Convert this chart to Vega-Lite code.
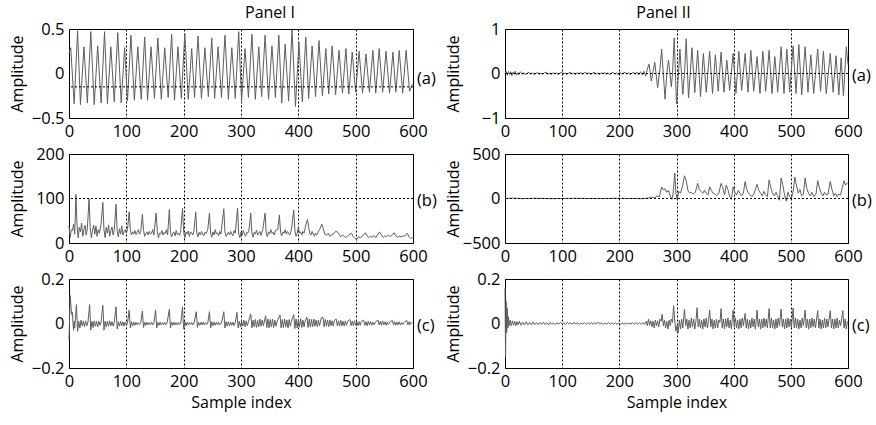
{
"$schema": "https://vega.github.io/schema/vega-lite/v6.json",
"background": "white",
"padding": {"left": 8, "top": 4, "right": 5, "bottom": 5},
"bounds": "flush",
"columns": 2,
"spacing": {"row": 36, "column": 92},
"config": {
  "font": "Open Sans",
  "view": {"stroke": "black", "strokeWidth": 1},
  "axis": {"domain": false, "ticks": false, "labelFontSize": 16.5, "labelColor": "black", "titleFontSize": 16, "titleColor": "black", "titleFontWeight": "normal", "labelPadding": 5, "labelFlush": false, "labelOverlap": false},
  "axisX": {"grid": true, "gridColor": "black", "gridDash": [2, 2], "gridOpacity": 1, "format": "d", "zindex": 1},
  "axisY": {"grid": false, "format": "~r", "titleX": -47, "titleBaseline": "alphabetic"},
  "title": {"fontSize": 16, "fontWeight": "normal", "color": "black"},
  "line": {"color": "#5e5e5e", "strokeWidth": 1}
},
"datasets": {
"Ia": [{"s":0,"v":0.22},{"s":3,"v":0.29},{"s":9,"v":-0.34},{"s":15,"v":0.48},{"s":20,"v":-0.35},{"s":26,"v":0.30},{"s":32,"v":-0.33},{"s":38,"v":0.47},{"s":44,"v":-0.35},{"s":50,"v":0.31},{"s":56,"v":-0.33},{"s":62,"v":0.47},{"s":67,"v":-0.34},{"s":73,"v":0.30},{"s":79,"v":-0.32},{"s":85,"v":0.46},{"s":91,"v":-0.33},{"s":97,"v":0.29},{"s":102,"v":-0.31},{"s":108,"v":0.43},{"s":114,"v":-0.30},{"s":120,"v":0.30},{"s":126,"v":-0.29},{"s":132,"v":0.41},{"s":137,"v":-0.30},{"s":143,"v":0.30},{"s":149,"v":-0.28},{"s":155,"v":0.40},{"s":161,"v":-0.29},{"s":167,"v":0.29},{"s":173,"v":-0.27},{"s":179,"v":0.44},{"s":184,"v":-0.30},{"s":190,"v":0.30},{"s":196,"v":-0.28},{"s":202,"v":0.45},{"s":208,"v":-0.29},{"s":214,"v":0.28},{"s":219,"v":-0.27},{"s":225,"v":0.42},{"s":231,"v":-0.28},{"s":237,"v":0.29},{"s":243,"v":-0.26},{"s":249,"v":0.40},{"s":254,"v":-0.28},{"s":260,"v":0.30},{"s":266,"v":-0.27},{"s":272,"v":0.43},{"s":278,"v":-0.29},{"s":284,"v":0.29},{"s":290,"v":-0.28},{"s":296,"v":0.47},{"s":301,"v":-0.31},{"s":307,"v":0.28},{"s":313,"v":-0.27},{"s":319,"v":0.44},{"s":325,"v":-0.29},{"s":331,"v":0.30},{"s":336,"v":-0.26},{"s":342,"v":0.43},{"s":348,"v":-0.29},{"s":354,"v":0.31},{"s":360,"v":-0.27},{"s":366,"v":0.43},{"s":371,"v":-0.33},{"s":377,"v":0.33},{"s":383,"v":-0.31},{"s":389,"v":0.49},{"s":395,"v":-0.37},{"s":401,"v":0.35},{"s":407,"v":-0.32},{"s":413,"v":0.41},{"s":418,"v":-0.28},{"s":424,"v":0.31},{"s":430,"v":-0.26},{"s":436,"v":0.37},{"s":442,"v":-0.25},{"s":448,"v":0.28},{"s":453,"v":-0.23},{"s":459,"v":0.31},{"s":465,"v":-0.24},{"s":471,"v":0.26},{"s":477,"v":-0.22},{"s":483,"v":0.28},{"s":488,"v":-0.23},{"s":494,"v":0.24},{"s":500,"v":-0.21},{"s":506,"v":0.25},{"s":512,"v":-0.22},{"s":518,"v":0.22},{"s":524,"v":-0.21},{"s":530,"v":0.26},{"s":535,"v":-0.22},{"s":541,"v":0.28},{"s":547,"v":-0.21},{"s":553,"v":0.25},{"s":559,"v":-0.22},{"s":565,"v":0.24},{"s":570,"v":-0.21},{"s":576,"v":0.26},{"s":582,"v":-0.22},{"s":588,"v":0.26},{"s":594,"v":-0.2},{"s":599,"v":-0.12}],
"Ib": [{"s":0,"v":38},{"s":2,"v":12},{"s":4,"v":30},{"s":6,"v":28},{"s":8,"v":42},{"s":10,"v":20},{"s":12,"v":109},{"s":14,"v":40},{"s":16,"v":12},{"s":18,"v":35},{"s":20,"v":25},{"s":22,"v":45},{"s":24,"v":15},{"s":26,"v":30},{"s":28,"v":40},{"s":30,"v":18},{"s":32,"v":32},{"s":35,"v":100},{"s":37,"v":35},{"s":39,"v":12},{"s":41,"v":28},{"s":43,"v":40},{"s":45,"v":20},{"s":47,"v":38},{"s":49,"v":15},{"s":51,"v":30},{"s":53,"v":22},{"s":56,"v":42},{"s":59,"v":91},{"s":61,"v":30},{"s":63,"v":12},{"s":65,"v":35},{"s":67,"v":22},{"s":69,"v":40},{"s":71,"v":15},{"s":73,"v":28},{"s":75,"v":36},{"s":77,"v":18},{"s":79,"v":30},{"s":82,"v":87},{"s":84,"v":28},{"s":86,"v":14},{"s":88,"v":32},{"s":90,"v":20},{"s":92,"v":38},{"s":94,"v":18},{"s":96,"v":26},{"s":98,"v":30},{"s":100,"v":22},{"s":102,"v":30},{"s":105,"v":70},{"s":107,"v":30},{"s":109,"v":18},{"s":111,"v":25},{"s":113,"v":20},{"s":115,"v":28},{"s":117,"v":19},{"s":119,"v":24},{"s":121,"v":30},{"s":123,"v":20},{"s":125,"v":24},{"s":128,"v":64},{"s":130,"v":28},{"s":132,"v":15},{"s":134,"v":22},{"s":136,"v":25},{"s":138,"v":18},{"s":140,"v":26},{"s":142,"v":20},{"s":144,"v":22},{"s":146,"v":30},{"s":148,"v":18},{"s":152,"v":67},{"s":154,"v":26},{"s":156,"v":12},{"s":158,"v":22},{"s":160,"v":20},{"s":162,"v":28},{"s":164,"v":18},{"s":166,"v":24},{"s":168,"v":21},{"s":170,"v":30},{"s":172,"v":18},{"s":175,"v":75},{"s":177,"v":24},{"s":179,"v":14},{"s":181,"v":22},{"s":183,"v":25},{"s":185,"v":16},{"s":187,"v":28},{"s":189,"v":19},{"s":191,"v":22},{"s":193,"v":17},{"s":195,"v":30},{"s":198,"v":78},{"s":200,"v":25},{"s":202,"v":12},{"s":204,"v":24},{"s":206,"v":20},{"s":208,"v":27},{"s":210,"v":15},{"s":212,"v":25},{"s":214,"v":22},{"s":216,"v":18},{"s":218,"v":28},{"s":221,"v":70},{"s":223,"v":22},{"s":225,"v":14},{"s":227,"v":24},{"s":229,"v":18},{"s":231,"v":26},{"s":233,"v":20},{"s":235,"v":16},{"s":237,"v":24},{"s":239,"v":21},{"s":242,"v":30},{"s":245,"v":67},{"s":247,"v":22},{"s":249,"v":13},{"s":251,"v":25},{"s":253,"v":18},{"s":255,"v":30},{"s":257,"v":20},{"s":259,"v":23},{"s":261,"v":16},{"s":263,"v":26},{"s":265,"v":20},{"s":270,"v":77},{"s":272,"v":25},{"s":274,"v":15},{"s":276,"v":20},{"s":278,"v":24},{"s":280,"v":18},{"s":282,"v":26},{"s":284,"v":20},{"s":286,"v":16},{"s":288,"v":28},{"s":290,"v":22},{"s":294,"v":78},{"s":296,"v":20},{"s":298,"v":12},{"s":300,"v":25},{"s":302,"v":18},{"s":304,"v":28},{"s":306,"v":20},{"s":308,"v":15},{"s":310,"v":24},{"s":312,"v":22},{"s":314,"v":30},{"s":317,"v":67},{"s":319,"v":22},{"s":321,"v":13},{"s":323,"v":24},{"s":325,"v":20},{"s":327,"v":28},{"s":329,"v":18},{"s":331,"v":22},{"s":333,"v":26},{"s":335,"v":17},{"s":338,"v":30},{"s":342,"v":67},{"s":344,"v":22},{"s":346,"v":14},{"s":348,"v":25},{"s":350,"v":20},{"s":352,"v":30},{"s":354,"v":22},{"s":356,"v":24},{"s":358,"v":18},{"s":360,"v":28},{"s":364,"v":30},{"s":367,"v":63},{"s":369,"v":24},{"s":371,"v":16},{"s":373,"v":25},{"s":375,"v":22},{"s":377,"v":30},{"s":379,"v":20},{"s":381,"v":26},{"s":383,"v":22},{"s":385,"v":18},{"s":388,"v":30},{"s":392,"v":74},{"s":394,"v":28},{"s":396,"v":15},{"s":398,"v":22},{"s":400,"v":35},{"s":402,"v":22},{"s":404,"v":25},{"s":406,"v":18},{"s":408,"v":26},{"s":410,"v":22},{"s":413,"v":40},{"s":416,"v":53},{"s":418,"v":35},{"s":420,"v":22},{"s":422,"v":18},{"s":424,"v":26},{"s":426,"v":20},{"s":428,"v":15},{"s":430,"v":22},{"s":432,"v":18},{"s":434,"v":24},{"s":437,"v":30},{"s":441,"v":42},{"s":443,"v":35},{"s":446,"v":20},{"s":449,"v":17},{"s":452,"v":22},{"s":455,"v":15},{"s":458,"v":18},{"s":461,"v":20},{"s":465,"v":26},{"s":468,"v":25},{"s":471,"v":20},{"s":474,"v":14},{"s":477,"v":18},{"s":480,"v":15},{"s":483,"v":12},{"s":486,"v":16},{"s":490,"v":20},{"s":493,"v":22},{"s":496,"v":14},{"s":499,"v":10},{"s":502,"v":8},{"s":505,"v":14},{"s":508,"v":12},{"s":511,"v":15},{"s":514,"v":18},{"s":517,"v":23},{"s":520,"v":16},{"s":523,"v":12},{"s":526,"v":15},{"s":529,"v":13},{"s":532,"v":17},{"s":535,"v":12},{"s":538,"v":18},{"s":542,"v":25},{"s":545,"v":18},{"s":548,"v":13},{"s":551,"v":16},{"s":554,"v":14},{"s":557,"v":18},{"s":560,"v":15},{"s":563,"v":17},{"s":567,"v":23},{"s":570,"v":16},{"s":573,"v":13},{"s":576,"v":15},{"s":579,"v":14},{"s":582,"v":16},{"s":585,"v":15},{"s":590,"v":22},{"s":593,"v":14},{"s":596,"v":10},{"s":599,"v":12}],
"Ic": [{"s":0,"v":-0.075},{"s":1,"v":0.02},{"s":2,"v":0.126},{"s":4,"v":0.06},{"s":5,"v":0.04},{"s":6,"v":0.05},{"s":7,"v":0.0},{"s":8,"v":-0.03},{"s":9,"v":0.01},{"s":10,"v":-0.02},{"s":11,"v":0.02},{"s":13,"v":0.085},{"s":15,"v":-0.035},{"s":17,"v":0.01},{"s":19,"v":-0.02},{"s":21,"v":0.015},{"s":23,"v":-0.01},{"s":25,"v":0.01},{"s":27,"v":-0.015},{"s":29,"v":0.012},{"s":31,"v":-0.01},{"s":33,"v":0.005},{"s":36,"v":0.085},{"s":38,"v":-0.03},{"s":40,"v":0.01},{"s":42,"v":-0.018},{"s":44,"v":0.012},{"s":46,"v":-0.012},{"s":48,"v":0.01},{"s":50,"v":-0.015},{"s":52,"v":0.01},{"s":54,"v":-0.008},{"s":56,"v":0.006},{"s":59,"v":0.082},{"s":61,"v":-0.03},{"s":63,"v":0.01},{"s":65,"v":-0.015},{"s":67,"v":0.01},{"s":69,"v":-0.012},{"s":71,"v":0.012},{"s":73,"v":-0.01},{"s":75,"v":0.008},{"s":77,"v":-0.012},{"s":79,"v":0.005},{"s":82,"v":0.075},{"s":84,"v":-0.025},{"s":86,"v":0.008},{"s":88,"v":-0.012},{"s":90,"v":0.01},{"s":92,"v":-0.01},{"s":94,"v":0.008},{"s":96,"v":-0.012},{"s":98,"v":0.006},{"s":100,"v":-0.008},{"s":102,"v":0.0},{"s":105,"v":0.06},{"s":107,"v":-0.02},{"s":109,"v":0.008},{"s":111,"v":-0.01},{"s":113,"v":0.006},{"s":115,"v":-0.008},{"s":117,"v":0.005},{"s":119,"v":-0.006},{"s":121,"v":0.004},{"s":123,"v":-0.005},{"s":125,"v":0.0},{"s":128,"v":0.056},{"s":130,"v":-0.018},{"s":132,"v":0.006},{"s":134,"v":-0.008},{"s":136,"v":0.005},{"s":138,"v":-0.006},{"s":140,"v":0.004},{"s":142,"v":-0.005},{"s":144,"v":0.006},{"s":146,"v":-0.006},{"s":148,"v":0.002},{"s":151,"v":0.06},{"s":153,"v":-0.02},{"s":155,"v":0.005},{"s":157,"v":-0.008},{"s":159,"v":0.006},{"s":161,"v":-0.007},{"s":163,"v":0.004},{"s":165,"v":-0.005},{"s":167,"v":0.005},{"s":169,"v":-0.006},{"s":171,"v":0.002},{"s":175,"v":0.063},{"s":177,"v":-0.02},{"s":179,"v":0.006},{"s":181,"v":-0.008},{"s":183,"v":0.006},{"s":185,"v":-0.006},{"s":187,"v":0.004},{"s":189,"v":-0.007},{"s":191,"v":0.005},{"s":193,"v":-0.004},{"s":195,"v":0.0},{"s":198,"v":0.075},{"s":200,"v":-0.025},{"s":202,"v":0.008},{"s":204,"v":-0.01},{"s":206,"v":0.006},{"s":208,"v":-0.006},{"s":210,"v":0.004},{"s":212,"v":-0.005},{"s":214,"v":0.005},{"s":216,"v":-0.006},{"s":218,"v":0.002},{"s":222,"v":0.053},{"s":224,"v":-0.018},{"s":226,"v":0.006},{"s":228,"v":-0.008},{"s":230,"v":0.005},{"s":232,"v":-0.006},{"s":234,"v":0.006},{"s":236,"v":-0.006},{"s":238,"v":0.004},{"s":240,"v":-0.005},{"s":242,"v":0.002},{"s":245,"v":0.053},{"s":247,"v":-0.02},{"s":249,"v":0.008},{"s":251,"v":-0.01},{"s":253,"v":0.006},{"s":255,"v":-0.008},{"s":257,"v":0.005},{"s":259,"v":-0.006},{"s":261,"v":0.006},{"s":263,"v":-0.006},{"s":266,"v":0.002},{"s":270,"v":0.053},{"s":272,"v":-0.02},{"s":274,"v":0.008},{"s":276,"v":-0.012},{"s":278,"v":0.008},{"s":280,"v":-0.01},{"s":282,"v":0.006},{"s":284,"v":-0.008},{"s":286,"v":0.006},{"s":288,"v":-0.01},{"s":290,"v":0.004},{"s":293,"v":0.05},{"s":295,"v":-0.02},{"s":297,"v":0.01},{"s":299,"v":-0.015},{"s":301,"v":0.012},{"s":303,"v":-0.012},{"s":305,"v":0.015},{"s":307,"v":-0.015},{"s":309,"v":0.012},{"s":311,"v":-0.01},{"s":313,"v":0.008},{"s":317,"v":0.043},{"s":319,"v":-0.02},{"s":321,"v":0.015},{"s":323,"v":-0.015},{"s":325,"v":0.018},{"s":327,"v":-0.018},{"s":329,"v":0.014},{"s":331,"v":-0.015},{"s":333,"v":0.02},{"s":335,"v":-0.012},{"s":337,"v":0.015},{"s":339,"v":-0.01},{"s":343,"v":0.035},{"s":345,"v":-0.018},{"s":347,"v":0.02},{"s":349,"v":-0.02},{"s":351,"v":0.018},{"s":353,"v":-0.015},{"s":355,"v":0.02},{"s":357,"v":-0.018},{"s":359,"v":0.015},{"s":361,"v":-0.012},{"s":363,"v":0.01},{"s":368,"v":0.038},{"s":370,"v":-0.02},{"s":372,"v":0.018},{"s":374,"v":-0.018},{"s":376,"v":0.02},{"s":378,"v":-0.015},{"s":380,"v":0.016},{"s":382,"v":-0.02},{"s":384,"v":0.018},{"s":386,"v":-0.012},{"s":388,"v":0.01},{"s":392,"v":0.04},{"s":394,"v":-0.022},{"s":396,"v":0.02},{"s":398,"v":-0.02},{"s":400,"v":0.018},{"s":402,"v":-0.016},{"s":404,"v":0.022},{"s":406,"v":-0.018},{"s":408,"v":0.015},{"s":410,"v":-0.015},{"s":412,"v":0.012},{"s":415,"v":0.028},{"s":417,"v":-0.018},{"s":419,"v":0.02},{"s":421,"v":-0.016},{"s":423,"v":0.018},{"s":425,"v":-0.015},{"s":427,"v":0.02},{"s":429,"v":-0.012},{"s":431,"v":0.016},{"s":433,"v":-0.014},{"s":435,"v":0.015},{"s":437,"v":-0.01},{"s":440,"v":0.025},{"s":443,"v":0.028},{"s":445,"v":-0.015},{"s":447,"v":0.018},{"s":449,"v":-0.012},{"s":451,"v":0.015},{"s":453,"v":-0.014},{"s":455,"v":0.016},{"s":457,"v":-0.01},{"s":459,"v":0.012},{"s":461,"v":-0.012},{"s":463,"v":0.014},{"s":466,"v":0.02},{"s":468,"v":-0.01},{"s":470,"v":0.012},{"s":472,"v":-0.012},{"s":474,"v":0.015},{"s":476,"v":-0.01},{"s":478,"v":0.01},{"s":480,"v":-0.012},{"s":482,"v":0.012},{"s":484,"v":-0.008},{"s":486,"v":0.01},{"s":490,"v":0.018},{"s":492,"v":-0.01},{"s":494,"v":0.01},{"s":496,"v":-0.01},{"s":498,"v":0.012},{"s":500,"v":-0.008},{"s":502,"v":0.01},{"s":504,"v":-0.01},{"s":506,"v":0.008},{"s":508,"v":-0.008},{"s":510,"v":0.01},{"s":514,"v":0.015},{"s":516,"v":-0.008},{"s":518,"v":0.008},{"s":520,"v":-0.01},{"s":522,"v":0.01},{"s":524,"v":-0.006},{"s":526,"v":0.008},{"s":528,"v":-0.008},{"s":530,"v":0.006},{"s":532,"v":-0.006},{"s":535,"v":0.008},{"s":539,"v":0.015},{"s":541,"v":-0.006},{"s":543,"v":0.01},{"s":545,"v":-0.008},{"s":547,"v":0.012},{"s":549,"v":-0.006},{"s":551,"v":0.008},{"s":553,"v":-0.008},{"s":555,"v":0.006},{"s":557,"v":-0.005},{"s":560,"v":0.008},{"s":564,"v":0.014},{"s":566,"v":-0.006},{"s":568,"v":0.008},{"s":570,"v":-0.008},{"s":572,"v":0.006},{"s":574,"v":-0.006},{"s":576,"v":0.008},{"s":578,"v":-0.007},{"s":580,"v":0.005},{"s":582,"v":-0.005},{"s":585,"v":0.006},{"s":589,"v":0.014},{"s":591,"v":-0.006},{"s":593,"v":0.008},{"s":595,"v":-0.006},{"s":597,"v":0.006},{"s":599,"v":0.002}],
"IIa": [{"s":0,"v":0.0},{"s":2,"v":0.04},{"s":4,"v":-0.04},{"s":6,"v":0.05},{"s":8,"v":-0.03},{"s":10,"v":0.04},{"s":12,"v":-0.05},{"s":14,"v":0.03},{"s":16,"v":-0.02},{"s":18,"v":0.05},{"s":20,"v":-0.04},{"s":22,"v":0.02},{"s":24,"v":-0.03},{"s":27,"v":0.04},{"s":30,"v":-0.02},{"s":33,"v":0.02},{"s":36,"v":-0.03},{"s":39,"v":0.01},{"s":42,"v":0.03},{"s":45,"v":-0.02},{"s":48,"v":0.02},{"s":51,"v":-0.03},{"s":54,"v":0.0},{"s":57,"v":0.03},{"s":60,"v":-0.02},{"s":63,"v":0.01},{"s":66,"v":-0.02},{"s":69,"v":0.02},{"s":72,"v":0.03},{"s":75,"v":-0.02},{"s":78,"v":0.01},{"s":81,"v":-0.03},{"s":84,"v":0.02},{"s":87,"v":-0.01},{"s":90,"v":0.02},{"s":93,"v":-0.03},{"s":96,"v":0.01},{"s":99,"v":0.03},{"s":102,"v":-0.02},{"s":105,"v":0.02},{"s":108,"v":-0.03},{"s":111,"v":0.01},{"s":114,"v":0.03},{"s":117,"v":-0.02},{"s":120,"v":0.02},{"s":123,"v":-0.03},{"s":126,"v":0.02},{"s":129,"v":-0.01},{"s":132,"v":0.03},{"s":135,"v":-0.02},{"s":138,"v":0.01},{"s":141,"v":0.03},{"s":144,"v":-0.02},{"s":147,"v":0.02},{"s":150,"v":-0.03},{"s":153,"v":0.01},{"s":156,"v":0.03},{"s":159,"v":-0.02},{"s":162,"v":0.02},{"s":165,"v":-0.03},{"s":168,"v":0.02},{"s":171,"v":-0.01},{"s":174,"v":0.03},{"s":177,"v":-0.02},{"s":180,"v":0.02},{"s":183,"v":-0.03},{"s":186,"v":0.01},{"s":189,"v":0.03},{"s":192,"v":-0.02},{"s":195,"v":0.02},{"s":198,"v":-0.03},{"s":201,"v":0.03},{"s":204,"v":-0.02},{"s":207,"v":0.01},{"s":210,"v":0.03},{"s":213,"v":-0.02},{"s":216,"v":0.02},{"s":219,"v":-0.03},{"s":222,"v":0.01},{"s":225,"v":0.03},{"s":228,"v":-0.02},{"s":231,"v":0.03},{"s":234,"v":-0.03},{"s":237,"v":0.04},{"s":240,"v":-0.03},{"s":243,"v":0.05},{"s":246,"v":-0.06},{"s":249,"v":0.1},{"s":252,"v":0.21},{"s":256,"v":-0.17},{"s":259,"v":0.05},{"s":262,"v":0.25},{"s":267,"v":-0.32},{"s":271,"v":0.1},{"s":274,"v":0.55},{"s":280,"v":-0.58},{"s":283,"v":0.0},{"s":286,"v":0.3},{"s":291,"v":-0.3},{"s":293,"v":0.0},{"s":296,"v":0.8},{"s":300,"v":-0.68},{"s":303,"v":-0.1},{"s":306,"v":0.55},{"s":311,"v":-0.47},{"s":314,"v":0.0},{"s":317,"v":0.78},{"s":321,"v":-0.55},{"s":324,"v":0.0},{"s":327,"v":0.58},{"s":332,"v":-0.43},{"s":337,"v":0.52},{"s":342,"v":-0.52},{"s":347,"v":0.45},{"s":352,"v":-0.42},{"s":358,"v":0.5},{"s":363,"v":-0.45},{"s":368,"v":0.42},{"s":373,"v":-0.4},{"s":378,"v":0.48},{"s":383,"v":-0.42},{"s":388,"v":0.3},{"s":393,"v":-0.38},{"s":399,"v":0.45},{"s":404,"v":-0.45},{"s":409,"v":0.5},{"s":414,"v":-0.38},{"s":420,"v":0.45},{"s":425,"v":-0.42},{"s":430,"v":0.52},{"s":435,"v":-0.4},{"s":441,"v":0.38},{"s":446,"v":-0.45},{"s":451,"v":0.5},{"s":456,"v":-0.4},{"s":462,"v":0.52},{"s":467,"v":-0.45},{"s":472,"v":0.38},{"s":477,"v":-0.42},{"s":483,"v":0.6},{"s":488,"v":-0.45},{"s":493,"v":0.55},{"s":498,"v":-0.42},{"s":504,"v":0.62},{"s":509,"v":-0.45},{"s":514,"v":0.65},{"s":519,"v":-0.48},{"s":525,"v":0.6},{"s":530,"v":-0.42},{"s":535,"v":0.42},{"s":540,"v":-0.45},{"s":547,"v":0.55},{"s":552,"v":-0.4},{"s":557,"v":0.5},{"s":562,"v":-0.45},{"s":569,"v":0.45},{"s":574,"v":-0.42},{"s":579,"v":0.4},{"s":584,"v":-0.48},{"s":588,"v":0.35},{"s":592,"v":-0.5},{"s":597,"v":0.6},{"s":600,"v":0.2}],
"IIb": [{"s":0,"v":0},{"s":15,"v":5},{"s":30,"v":-2},{"s":50,"v":3},{"s":80,"v":-2},{"s":120,"v":2},{"s":160,"v":-1},{"s":200,"v":2},{"s":240,"v":-2},{"s":250,"v":5},{"s":256,"v":15},{"s":262,"v":10},{"s":266,"v":25},{"s":270,"v":20},{"s":274,"v":130},{"s":277,"v":95},{"s":280,"v":110},{"s":283,"v":70},{"s":286,"v":90},{"s":289,"v":30},{"s":292,"v":-10},{"s":294,"v":50},{"s":297,"v":285},{"s":299,"v":60},{"s":301,"v":-10},{"s":304,"v":80},{"s":307,"v":60},{"s":311,"v":150},{"s":314,"v":255},{"s":317,"v":200},{"s":320,"v":90},{"s":323,"v":60},{"s":326,"v":70},{"s":329,"v":50},{"s":333,"v":70},{"s":337,"v":170},{"s":340,"v":100},{"s":343,"v":80},{"s":346,"v":60},{"s":349,"v":90},{"s":352,"v":60},{"s":355,"v":40},{"s":358,"v":130},{"s":361,"v":90},{"s":364,"v":60},{"s":367,"v":50},{"s":370,"v":30},{"s":374,"v":60},{"s":378,"v":170},{"s":381,"v":120},{"s":384,"v":40},{"s":387,"v":150},{"s":390,"v":100},{"s":393,"v":20},{"s":396,"v":-10},{"s":399,"v":130},{"s":402,"v":70},{"s":405,"v":40},{"s":408,"v":90},{"s":411,"v":60},{"s":414,"v":30},{"s":417,"v":60},{"s":420,"v":190},{"s":423,"v":100},{"s":426,"v":60},{"s":429,"v":40},{"s":432,"v":20},{"s":436,"v":60},{"s":441,"v":160},{"s":444,"v":90},{"s":447,"v":60},{"s":450,"v":30},{"s":453,"v":80},{"s":456,"v":40},{"s":459,"v":20},{"s":462,"v":210},{"s":465,"v":120},{"s":468,"v":60},{"s":471,"v":30},{"s":474,"v":70},{"s":477,"v":30},{"s":480,"v":-20},{"s":483,"v":230},{"s":486,"v":150},{"s":489,"v":40},{"s":492,"v":-30},{"s":495,"v":70},{"s":498,"v":20},{"s":501,"v":0},{"s":504,"v":80},{"s":507,"v":240},{"s":510,"v":140},{"s":513,"v":60},{"s":516,"v":100},{"s":519,"v":30},{"s":522,"v":50},{"s":525,"v":230},{"s":528,"v":110},{"s":531,"v":60},{"s":534,"v":30},{"s":537,"v":70},{"s":540,"v":20},{"s":544,"v":50},{"s":547,"v":200},{"s":550,"v":120},{"s":553,"v":60},{"s":556,"v":30},{"s":559,"v":70},{"s":562,"v":40},{"s":565,"v":50},{"s":569,"v":190},{"s":572,"v":100},{"s":575,"v":30},{"s":578,"v":60},{"s":581,"v":20},{"s":584,"v":50},{"s":587,"v":40},{"s":590,"v":120},{"s":593,"v":200},{"s":596,"v":150},{"s":599,"v":180}],
"IIc": [{"s":0,"v":0.16},{"s":1,"v":-0.15},{"s":2,"v":0.1},{"s":3,"v":-0.04},{"s":4,"v":0.07},{"s":5,"v":-0.02},{"s":6,"v":0.03},{"s":7,"v":-0.01},{"s":9,"v":0.015},{"s":11,"v":-0.01},{"s":13,"v":0.012},{"s":15,"v":-0.008},{"s":17,"v":0.01},{"s":19,"v":-0.01},{"s":21,"v":0.008},{"s":23,"v":-0.006},{"s":25,"v":0.01},{"s":28,"v":-0.008},{"s":31,"v":0.006},{"s":34,"v":-0.007},{"s":37,"v":0.008},{"s":40,"v":-0.006},{"s":43,"v":0.005},{"s":46,"v":-0.006},{"s":49,"v":0.007},{"s":52,"v":-0.005},{"s":55,"v":0.004},{"s":58,"v":-0.006},{"s":61,"v":0.005},{"s":64,"v":-0.004},{"s":67,"v":0.006},{"s":70,"v":-0.005},{"s":73,"v":0.004},{"s":76,"v":-0.006},{"s":79,"v":0.005},{"s":82,"v":-0.004},{"s":85,"v":0.003},{"s":88,"v":-0.005},{"s":91,"v":0.004},{"s":94,"v":-0.003},{"s":97,"v":0.005},{"s":100,"v":-0.004},{"s":103,"v":0.003},{"s":106,"v":-0.004},{"s":109,"v":0.005},{"s":112,"v":-0.003},{"s":115,"v":0.004},{"s":118,"v":-0.004},{"s":121,"v":0.006},{"s":124,"v":-0.003},{"s":127,"v":0.004},{"s":130,"v":-0.005},{"s":133,"v":0.003},{"s":136,"v":-0.003},{"s":139,"v":0.004},{"s":142,"v":-0.004},{"s":145,"v":0.003},{"s":148,"v":-0.003},{"s":151,"v":0.005},{"s":154,"v":-0.004},{"s":157,"v":0.004},{"s":160,"v":-0.003},{"s":163,"v":0.006},{"s":166,"v":-0.003},{"s":169,"v":0.003},{"s":172,"v":-0.004},{"s":175,"v":0.003},{"s":178,"v":-0.003},{"s":181,"v":0.004},{"s":184,"v":-0.003},{"s":187,"v":0.003},{"s":190,"v":-0.004},{"s":193,"v":0.003},{"s":196,"v":-0.003},{"s":199,"v":0.002},{"s":202,"v":-0.003},{"s":205,"v":0.003},{"s":208,"v":-0.003},{"s":211,"v":0.002},{"s":214,"v":-0.003},{"s":217,"v":0.003},{"s":220,"v":-0.002},{"s":223,"v":0.003},{"s":226,"v":-0.003},{"s":229,"v":0.004},{"s":232,"v":-0.003},{"s":235,"v":0.003},{"s":238,"v":-0.004},{"s":241,"v":0.004},{"s":244,"v":-0.005},{"s":247,"v":0.01},{"s":249,"v":-0.01},{"s":251,"v":0.02},{"s":253,"v":-0.008},{"s":255,"v":0.012},{"s":257,"v":-0.015},{"s":259,"v":0.01},{"s":261,"v":-0.02},{"s":263,"v":0.015},{"s":265,"v":-0.01},{"s":267,"v":0.012},{"s":269,"v":-0.015},{"s":271,"v":0.02},{"s":273,"v":0.01},{"s":275,"v":0.042},{"s":277,"v":-0.01},{"s":279,"v":0.015},{"s":281,"v":-0.02},{"s":283,"v":0.01},{"s":285,"v":-0.025},{"s":287,"v":0.015},{"s":289,"v":-0.01},{"s":291,"v":0.02},{"s":293,"v":0.005},{"s":295,"v":0.08},{"s":297,"v":0.01},{"s":299,"v":-0.035},{"s":301,"v":-0.01},{"s":303,"v":-0.04},{"s":305,"v":0.015},{"s":307,"v":-0.025},{"s":309,"v":0.02},{"s":311,"v":-0.02},{"s":314,"v":0.064},{"s":316,"v":-0.01},{"s":318,"v":0.02},{"s":320,"v":-0.025},{"s":322,"v":0.015},{"s":324,"v":-0.02},{"s":326,"v":0.025},{"s":328,"v":-0.015},{"s":330,"v":0.02},{"s":332,"v":-0.025},{"s":334,"v":0.01},{"s":336,"v":0.071},{"s":338,"v":-0.015},{"s":340,"v":0.02},{"s":342,"v":-0.02},{"s":344,"v":0.015},{"s":346,"v":-0.025},{"s":348,"v":0.02},{"s":350,"v":-0.015},{"s":352,"v":0.025},{"s":354,"v":-0.02},{"s":356,"v":0.01},{"s":358,"v":0.06},{"s":360,"v":-0.015},{"s":362,"v":0.02},{"s":364,"v":-0.025},{"s":366,"v":0.015},{"s":368,"v":-0.02},{"s":370,"v":0.02},{"s":372,"v":-0.02},{"s":374,"v":0.015},{"s":376,"v":0.005},{"s":378,"v":0.067},{"s":380,"v":-0.02},{"s":382,"v":0.02},{"s":384,"v":-0.025},{"s":386,"v":0.02},{"s":388,"v":-0.015},{"s":390,"v":0.025},{"s":392,"v":-0.02},{"s":394,"v":0.015},{"s":396,"v":-0.025},{"s":399,"v":0.06},{"s":401,"v":-0.015},{"s":403,"v":0.025},{"s":405,"v":-0.02},{"s":407,"v":0.015},{"s":409,"v":-0.025},{"s":411,"v":0.02},{"s":413,"v":-0.02},{"s":415,"v":0.025},{"s":417,"v":-0.01},{"s":420,"v":0.045},{"s":422,"v":-0.02},{"s":424,"v":0.02},{"s":426,"v":-0.025},{"s":428,"v":0.015},{"s":430,"v":-0.02},{"s":432,"v":0.025},{"s":434,"v":-0.015},{"s":436,"v":0.02},{"s":438,"v":-0.025},{"s":441,"v":0.06},{"s":443,"v":-0.015},{"s":445,"v":0.02},{"s":447,"v":-0.025},{"s":449,"v":0.02},{"s":451,"v":-0.02},{"s":453,"v":0.025},{"s":455,"v":-0.015},{"s":457,"v":0.02},{"s":459,"v":-0.02},{"s":462,"v":0.067},{"s":464,"v":-0.02},{"s":466,"v":0.025},{"s":468,"v":-0.02},{"s":470,"v":0.015},{"s":472,"v":-0.025},{"s":474,"v":0.02},{"s":476,"v":-0.02},{"s":478,"v":0.025},{"s":480,"v":-0.01},{"s":483,"v":0.065},{"s":485,"v":-0.015},{"s":487,"v":0.02},{"s":489,"v":-0.025},{"s":491,"v":0.02},{"s":493,"v":-0.02},{"s":495,"v":0.025},{"s":497,"v":-0.015},{"s":499,"v":0.02},{"s":501,"v":-0.02},{"s":504,"v":0.07},{"s":506,"v":-0.02},{"s":508,"v":0.025},{"s":510,"v":-0.02},{"s":512,"v":0.02},{"s":514,"v":-0.025},{"s":516,"v":0.015},{"s":518,"v":-0.02},{"s":520,"v":0.025},{"s":522,"v":-0.01},{"s":525,"v":0.06},{"s":527,"v":-0.02},{"s":529,"v":0.02},{"s":531,"v":-0.025},{"s":533,"v":0.02},{"s":535,"v":-0.02},{"s":537,"v":0.025},{"s":539,"v":-0.015},{"s":541,"v":0.02},{"s":543,"v":-0.02},{"s":547,"v":0.058},{"s":549,"v":-0.02},{"s":551,"v":0.02},{"s":553,"v":-0.025},{"s":555,"v":0.015},{"s":557,"v":-0.02},{"s":559,"v":0.025},{"s":561,"v":-0.02},{"s":563,"v":0.02},{"s":565,"v":-0.015},{"s":569,"v":0.058},{"s":571,"v":-0.02},{"s":573,"v":0.02},{"s":575,"v":-0.025},{"s":577,"v":0.02},{"s":579,"v":-0.02},{"s":581,"v":0.025},{"s":583,"v":-0.02},{"s":585,"v":0.015},{"s":587,"v":-0.01},{"s":591,"v":0.058},{"s":593,"v":-0.02},{"s":595,"v":0.02},{"s":597,"v":-0.025},{"s":599,"v":0.01}]
},
"concat": [
   {"width": 344, "height": 89, "title": {"text": "Panel I", "frame": "group", "dx": 29, "offset": 0}, "layer": [
     {"data": {"name": "Ia"}, "mark": {"type": "line"}, "encoding": {
       "x": {"field": "s", "type": "quantitative", "scale": {"domain": [0, 600], "nice": false}, "axis": {"title": null, "values": [0, 100, 200, 300, 400, 500, 600]}},
       "y": {"field": "v", "type": "quantitative", "scale": {"domain": [-0.5, 0.5], "nice": false, "zero": false}, "axis": {"values": [-0.5, 0, 0.5], "title": "Amplitude"}}}},
     {"data": {"values": [{}]}, "mark": {"type": "rule", "color": "black", "strokeDash": [2, 2]}, "encoding": {"y": {"datum": -0.15}}},
     {"data": {"values": [{"label": "(a)"}]}, "mark": {"type": "text", "align": "left", "baseline": "middle", "dx": 4, "dy": 5, "fontSize": 16.5, "color": "black"}, "encoding": {"x": {"datum": 600}, "y": {"datum": 0}, "text": {"field": "label"}}}
   ]},
   {"width": 343, "height": 89, "title": {"text": "Panel II", "frame": "group", "dx": -13, "offset": 0}, "layer": [
     {"data": {"name": "IIa"}, "mark": {"type": "line"}, "encoding": {
       "x": {"field": "s", "type": "quantitative", "scale": {"domain": [0, 600], "nice": false}, "axis": {"title": null, "values": [0, 100, 200, 300, 400, 500, 600]}},
       "y": {"field": "v", "type": "quantitative", "scale": {"domain": [-1, 1], "nice": false, "zero": false}, "axis": {"values": [-1, 0, 1], "title": "Amplitude"}}}},
     {"data": {"values": [{}]}, "mark": {"type": "rule", "color": "black", "strokeDash": [2, 2]}, "encoding": {"y": {"datum": 0}}},
     {"data": {"values": [{"label": "(a)"}]}, "mark": {"type": "text", "align": "left", "baseline": "middle", "dx": 4, "dy": 2, "fontSize": 16.5, "color": "black"}, "encoding": {"x": {"datum": 600}, "y": {"datum": 0}, "text": {"field": "label"}}}
   ]},
   {"width": 344, "height": 89, "layer": [
     {"data": {"name": "Ib"}, "mark": {"type": "line"}, "encoding": {
       "x": {"field": "s", "type": "quantitative", "scale": {"domain": [0, 600], "nice": false}, "axis": {"title": null, "values": [0, 100, 200, 300, 400, 500, 600]}},
       "y": {"field": "v", "type": "quantitative", "scale": {"domain": [0, 200], "nice": false}, "axis": {"values": [0, 100, 200], "title": "Amplitude"}}}},
     {"data": {"values": [{}]}, "mark": {"type": "rule", "color": "black", "strokeDash": [2, 2]}, "encoding": {"y": {"datum": 100}}},
     {"data": {"values": [{"label": "(b)"}]}, "mark": {"type": "text", "align": "left", "baseline": "middle", "dx": 4, "dy": 2, "fontSize": 16.5, "color": "black"}, "encoding": {"x": {"datum": 600}, "y": {"datum": 100}, "text": {"field": "label"}}}
   ]},
   {"width": 343, "height": 89, "layer": [
     {"data": {"name": "IIb"}, "mark": {"type": "line"}, "encoding": {
       "x": {"field": "s", "type": "quantitative", "scale": {"domain": [0, 600], "nice": false}, "axis": {"title": null, "values": [0, 100, 200, 300, 400, 500, 600]}},
       "y": {"field": "v", "type": "quantitative", "scale": {"domain": [-500, 500], "nice": false}, "axis": {"values": [-500, 0, 500], "title": "Amplitude"}}}},
     {"data": {"values": [{}]}, "mark": {"type": "rule", "color": "black", "strokeDash": [2, 2]}, "encoding": {"y": {"datum": 0}}},
     {"data": {"values": [{"label": "(b)"}]}, "mark": {"type": "text", "align": "left", "baseline": "middle", "dx": 4, "dy": 2, "fontSize": 16.5, "color": "black"}, "encoding": {"x": {"datum": 600}, "y": {"datum": 0}, "text": {"field": "label"}}}
   ]},
   {"width": 344, "height": 89, "layer": [
     {"data": {"name": "Ic"}, "mark": {"type": "line"}, "encoding": {
       "x": {"field": "s", "type": "quantitative", "scale": {"domain": [0, 600], "nice": false}, "axis": {"title": "Sample index", "titlePadding": 5, "values": [0, 100, 200, 300, 400, 500, 600]}},
       "y": {"field": "v", "type": "quantitative", "scale": {"domain": [-0.2, 0.2], "nice": false, "zero": false}, "axis": {"values": [-0.2, 0, 0.2], "title": "Amplitude"}}}},
     {"data": {"values": [{"label": "(c)"}]}, "mark": {"type": "text", "align": "left", "baseline": "middle", "dx": 4, "dy": 2, "fontSize": 16.5, "color": "black"}, "encoding": {"x": {"datum": 600}, "y": {"datum": 0}, "text": {"field": "label"}}}
   ]},
   {"width": 343, "height": 89, "layer": [
     {"data": {"name": "IIc"}, "mark": {"type": "line"}, "encoding": {
       "x": {"field": "s", "type": "quantitative", "scale": {"domain": [0, 600], "nice": false}, "axis": {"title": "Sample index", "titlePadding": 5, "values": [0, 100, 200, 300, 400, 500, 600]}},
       "y": {"field": "v", "type": "quantitative", "scale": {"domain": [-0.2, 0.2], "nice": false, "zero": false}, "axis": {"values": [-0.2, 0, 0.2], "title": "Amplitude"}}}},
     {"data": {"values": [{"label": "(c)"}]}, "mark": {"type": "text", "align": "left", "baseline": "middle", "dx": 4, "dy": 2, "fontSize": 16.5, "color": "black"}, "encoding": {"x": {"datum": 600}, "y": {"datum": 0}, "text": {"field": "label"}}}
   ]}
]
}
